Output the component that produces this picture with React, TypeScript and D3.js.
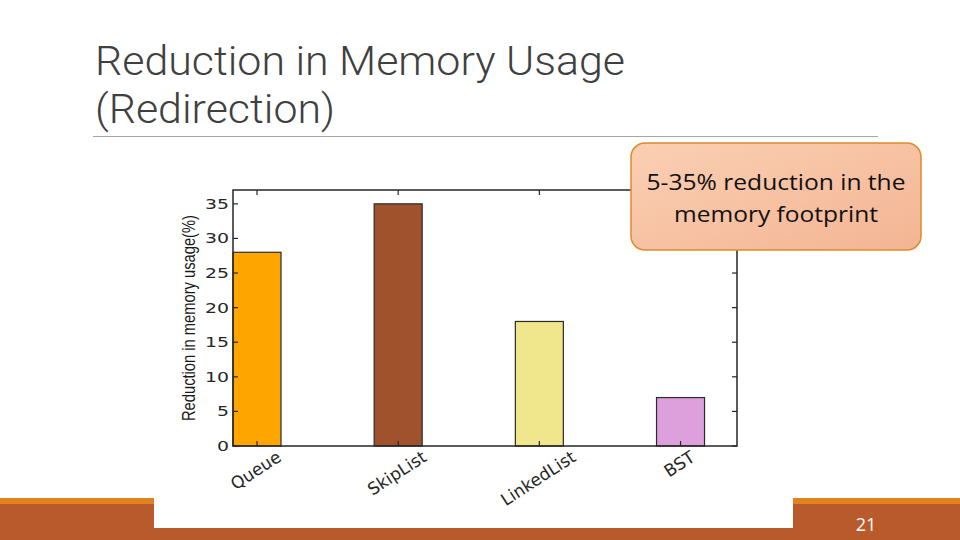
import { useEffect, useRef } from "react";
import * as d3 from "d3";

const categories = ["Queue", "SkipList", "LinkedList", "BST"];
const values = [28, 35, 18, 7];
const barColors = ["#ffa500", "#a0522d", "#f0e68c", "#dda0dd"];
const yTicks = [0, 5, 10, 15, 20, 25, 30, 35];
const titleLines = ["Reduction in Memory Usage", "(Redirection)"];
const calloutLines = ["5-35% reduction in the", "memory footprint"];

const W = 960;
const H = 540;
const PLOT = { left: 233, right: 737, top: 190, bottom: 446 };

export default function App() {
  const svgRef = useRef<SVGSVGElement | null>(null);

  useEffect(() => {
    const svg = d3.select(svgRef.current);
    svg.selectAll("*").remove();

    // background
    svg.append("rect").attr("width", W).attr("height", H).attr("fill", "#ffffff");

    const defs = svg.append("defs");
    const grad = defs.append("linearGradient").attr("id", "callGrad")
      .attr("x1", "0").attr("y1", "0").attr("x2", "1").attr("y2", "1");
    grad.append("stop").attr("offset", "0").attr("stop-color", "#fbcfb4");
    grad.append("stop").attr("offset", "1").attr("stop-color", "#f3b593");

    // title
    titleLines.forEach((t, i) => {
      svg.append("text")
        .attr("x", 95).attr("y", 75 + i * 48)
        .attr("font-family", "Roboto, sans-serif")
        .attr("font-weight", 300)
        .attr("font-size", 40)
        .attr("fill", "#404040")
        .attr("textLength", i === 0 ? 530 : 240)
        .attr("lengthAdjust", "spacingAndGlyphs")
        .text(t);
    });
    svg.append("line")
      .attr("x1", 93).attr("x2", 878).attr("y1", 136.5).attr("y2", 136.5)
      .attr("stroke", "#a6a6a6").attr("stroke-width", 1);

    // footer bands
    svg.append("rect").attr("x", 0).attr("y", 498).attr("width", W).attr("height", 6).attr("fill", "#e0821e");
    svg.append("rect").attr("x", 0).attr("y", 504).attr("width", W).attr("height", 36).attr("fill", "#b95a2c");
    svg.append("rect").attr("x", 154).attr("y", 480).attr("width", 639).attr("height", 48).attr("fill", "#ffffff");
    svg.append("text")
      .attr("x", 866).attr("y", 531)
      .attr("text-anchor", "middle")
      .attr("font-family", "Open Sans, sans-serif")
      .attr("font-size", 18)
      .attr("fill", "#ffffff")
      .text("21");

    // scales
    const x = d3.scaleLinear().domain([0.83, 4.4]).range([PLOT.left, PLOT.right]);
    const y = d3.scaleLinear().domain([0, 37]).range([PLOT.bottom, PLOT.top]);
    const barW = 48;

    const g = svg.append("g");

    // bars
    g.selectAll("rect.bar")
      .data(values)
      .join("rect")
      .attr("class", "bar")
      .attr("x", (_, i) => x(i + 1) - barW / 2)
      .attr("y", d => y(d))
      .attr("width", barW)
      .attr("height", d => y(0) - y(d))
      .attr("fill", (_, i) => barColors[i])
      .attr("stroke", "#2a2a2a")
      .attr("stroke-width", 1.2);

    // frame
    g.append("rect")
      .attr("x", PLOT.left).attr("y", PLOT.top)
      .attr("width", PLOT.right - PLOT.left)
      .attr("height", PLOT.bottom - PLOT.top)
      .attr("fill", "none")
      .attr("stroke", "#262626")
      .attr("stroke-width", 1.5);

    // y ticks inward both sides
    yTicks.forEach(t => {
      const yy = y(t);
      g.append("line").attr("x1", PLOT.left).attr("x2", PLOT.left + 5).attr("y1", yy).attr("y2", yy)
        .attr("stroke", "#262626").attr("stroke-width", 1.2);
      g.append("line").attr("x1", PLOT.right).attr("x2", PLOT.right - 5).attr("y1", yy).attr("y2", yy)
        .attr("stroke", "#262626").attr("stroke-width", 1.2);
      const s = String(t);
      g.append("text")
        .attr("x", 229).attr("y", yy + 5)
        .attr("text-anchor", "end")
        .attr("font-family", "DejaVu Sans, sans-serif")
        .attr("font-size", 14)
        .attr("fill", "#262626")
        .attr("textLength", s.length * 12)
        .attr("lengthAdjust", "spacingAndGlyphs")
        .text(s);
    });

    // x ticks
    categories.forEach((_, i) => {
      const xx = x(i + 1);
      g.append("line").attr("x1", xx).attr("x2", xx).attr("y1", PLOT.bottom).attr("y2", PLOT.bottom - 5)
        .attr("stroke", "#262626").attr("stroke-width", 1.2);
      g.append("line").attr("x1", xx).attr("x2", xx).attr("y1", PLOT.top).attr("y2", PLOT.top + 5)
        .attr("stroke", "#262626").attr("stroke-width", 1.2);
    });

    // x labels, rotated
    const angle = 33;
    const rad = (angle * Math.PI) / 180;
    categories.forEach((c, i) => {
      const xx = x(i + 1);
      const txt = g.append("text")
        .attr("text-anchor", "end")
        .attr("font-family", "DejaVu Sans, sans-serif")
        .attr("font-size", 17)
        .attr("fill", "#262626")
        .text(c);
      const node = txt.node() as SVGTextElement;
      const len = node.getComputedTextLength();
      const ex = xx + (len * Math.cos(rad)) / 2 + 2;
      const ey = PLOT.bottom + 14;
      txt.attr("transform", `translate(${ex},${ey}) rotate(${-angle})`);
    });

    // y axis title
    g.append("text")
      .attr("transform", `translate(195,${318}) rotate(-90)`)
      .attr("text-anchor", "middle")
      .attr("font-family", "Liberation Sans, Arial, sans-serif")
      .attr("font-size", 18)
      .attr("fill", "#1a1a1a")
      .attr("textLength", 206)
      .attr("lengthAdjust", "spacingAndGlyphs")
      .text("Reduction in memory usage(%)");

    // callout
    svg.append("rect")
      .attr("x", 631).attr("y", 143)
      .attr("width", 290).attr("height", 107)
      .attr("rx", 14)
      .attr("fill", "url(#callGrad)")
      .attr("stroke", "#e08a2a")
      .attr("stroke-width", 1.5);
    calloutLines.forEach((t, i) => {
      svg.append("text")
        .attr("x", 776).attr("y", 190 + i * 32)
        .attr("text-anchor", "middle")
        .attr("font-family", "Open Sans, sans-serif")
        .attr("font-size", 22)
        .attr("fill", "#111111")
        .attr("textLength", i === 0 ? 259 : 204)
        .attr("lengthAdjust", "spacingAndGlyphs")
        .text(t);
    });
  }, []);

  return (
    <div style={{ position: "absolute", left: 0, top: 0, width: W, height: H }}>
      <svg ref={svgRef} width={W} height={H} style={{ display: "block" }} />
    </div>
  );
}
